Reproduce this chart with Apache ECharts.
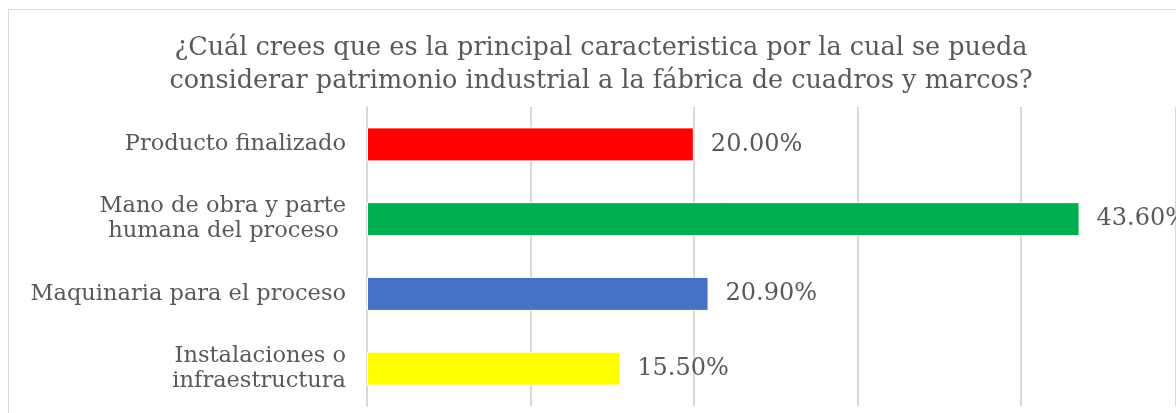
<!DOCTYPE html>
<html>
<head>
<meta charset="utf-8">
<script src="https://cdn.jsdelivr.net/npm/echarts@6/dist/echarts.min.js"></script>
<style>
  html, body { margin: 0; padding: 0; background: #fff; }
  #chart { width: 1176px; height: 413px; }
</style>
</head>
<body>
<div id="chart"></div>
<script>
const titleText = '¿Cuál crees que es la principal caracteristica por la cual se pueda\nconsiderar patrimonio industrial a la fábrica de cuadros y marcos?';
const categories = [
    'Producto finalizado',
    'Mano de obra y parte\nhumana del proceso ',
    'Maquinaria para el proceso',
    'Instalaciones o\ninfraestructura',
];
const values = [20.0, 43.6, 20.9, 15.5];
const barColors = ['#ff0000', '#00b050', '#4472c4', '#ffff00'];

const FONT = "'DejaVu Serif', 'Liberation Serif', serif";
const TEXT_COLOR = '#595959';
const GRID_COLOR = '#d9d9d9';

const chart = echarts.init(document.getElementById('chart'), null, { renderer: 'canvas' });

chart.setOption({
    backgroundColor: '#fff',
    animation: false,
    title: {
        text: titleText,
        left: 596,
        top: 27,
        textAlign: 'center',
        textStyle: {
            fontFamily: FONT,
            fontSize: 25.5,
            fontWeight: 'normal',
            lineHeight: 33,
            color: TEXT_COLOR,
        },
    },
    graphic: [
        {
            // outer chart frame
            type: 'rect',
            shape: { x: 8.5, y: 9.5, width: 1200, height: 500 },
            style: { fill: null, stroke: GRID_COLOR, lineWidth: 1 },
            silent: true,
        },
    ],
    grid: {
        left: 367,
        top: 107,
        right: 0,
        height: 299,
        containLabel: false,
    },
    xAxis: {
        type: 'value',
        min: 0,
        // the plot runs past the right edge of the picture (50% sits just outside)
        max: 49.5,
        interval: 10,
        axisLabel: { show: false },
        axisLine: { show: false },
        axisTick: { show: false },
        splitLine: { lineStyle: { color: GRID_COLOR, width: 2 } },
    },
    yAxis: {
        type: 'category',
        inverse: true,
        data: categories,
        axisLine: { lineStyle: { color: GRID_COLOR, width: 2 } },
        axisTick: { length: 7, lineStyle: { color: GRID_COLOR, width: 2 } },
        axisLabel: {
            fontFamily: FONT,
            fontSize: 22.5,
            lineHeight: 25,
            color: TEXT_COLOR,
            margin: 21,
        },
    },
    series: [
        {
            type: 'bar',
            barWidth: 34,
            data: values.map((v, i) => ({
                value: v,
                itemStyle: { color: barColors[i], borderColor: '#fff', borderWidth: 1 },
            })),
            label: {
                show: true,
                position: 'right',
                distance: 17,
                fontFamily: FONT,
                fontSize: 24,
                color: TEXT_COLOR,
                formatter: p => p.value.toFixed(2) + '%',
            },
        },
    ],
});
</script>
</body>
</html>
